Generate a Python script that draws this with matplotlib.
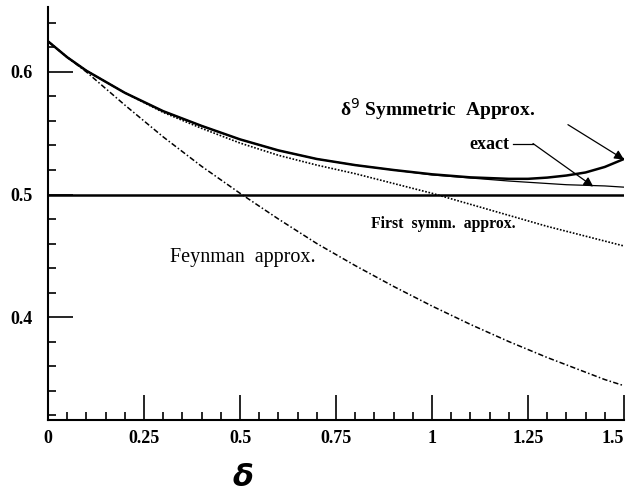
import matplotlib.pyplot as plt
from matplotlib.ticker import MultipleLocator

# values
delta = [0.0, 0.05, 0.1, 0.2, 0.3, 0.4, 0.5, 0.6, 0.7, 0.8, 0.9, 1.0,
         1.1, 1.2, 1.25, 1.3, 1.35, 1.4, 1.45, 1.5]
exact = [0.625, 0.612, 0.601, 0.583, 0.568, 0.556, 0.545, 0.536, 0.529,
         0.524, 0.520, 0.516, 0.5135, 0.511, 0.510, 0.509, 0.508, 0.5075,
         0.507, 0.506]
sym9 = [0.625, 0.612, 0.601, 0.583, 0.568, 0.556, 0.545, 0.536, 0.529,
        0.524, 0.520, 0.5165, 0.514, 0.5128, 0.5128, 0.5138, 0.5155, 0.518,
        0.5225, 0.529]
first_symm = [0.625, 0.612, 0.601, 0.583, 0.567, 0.554, 0.542, 0.532,
              0.524, 0.517, 0.509, 0.501, 0.492, 0.483, 0.4785, 0.474,
              0.470, 0.466, 0.462, 0.458]
feynman = [0.625, 0.612, 0.600, 0.573, 0.547, 0.523, 0.501, 0.480, 0.460,
           0.442, 0.425, 0.409, 0.394, 0.380, 0.3735, 0.367, 0.361, 0.355,
           0.349, 0.344]

serif = ['Liberation Serif', 'DejaVu Serif']

fig = plt.figure(figsize=(6.31, 4.97), dpi=100)
ax = fig.add_axes([0.0761, 0.1549, 0.9128, 0.831])

ax.axhline(0.5, color='black', lw=1.8)
ax.plot(delta, feynman, color='black', lw=1.1, ls=(0, (3.5, 1.5, 1, 1.5)))
ax.plot(delta, first_symm, color='black', lw=1.2, ls=(0, (1, 1)))
ax.plot(delta, exact, color='black', lw=0.9)
ax.plot(delta, sym9, color='black', lw=1.8)

ax.set_xlim(0, 1.5)
ax.set_ylim(0.316, 0.653)

for side in ['top', 'right']:
    ax.spines[side].set_visible(False)
for side in ['left', 'bottom']:
    ax.spines[side].set_linewidth(1.5)

ax.set_xticks([0, 0.25, 0.5, 0.75, 1.0, 1.25, 1.5])
ax.set_xticklabels(['0', '0.25', '0.5', '0.75', '1', '1.25', '1.5'])
ax.xaxis.set_minor_locator(MultipleLocator(0.05))
ax.set_yticks([0.4, 0.5, 0.6])
ax.set_yticklabels(['0.4', '0.5', '0.6'])
ax.yaxis.set_minor_locator(MultipleLocator(0.02))
ax.tick_params(which='major', direction='in', length=18, width=1.2,
               labelsize=13)
ax.tick_params(axis='y', which='major', pad=11)
ax.tick_params(axis='x', which='major', pad=7)
ax.tick_params(which='minor', direction='in', length=6, width=1.2)
for lab in ax.get_xticklabels() + ax.get_yticklabels():
    lab.set_family(serif)
    lab.set_fontweight('bold')
ax.get_xticklabels()[-1].set_horizontalalignment('right')

fig.text(0.385, 0.04, r'$\boldsymbol{\delta}$', fontsize=22, ha='center',
         va='center')

ax.text(0.76, 0.5695, 'δ$^9$ Symmetric  Approx.', fontsize=14,
        family=serif, fontweight='bold', va='center')
ax.text(1.098, 0.541, 'exact', fontsize=13, family=serif, fontweight='bold',
        va='center')
ax.text(0.84, 0.4763, 'First  symm.  approx.', fontsize=11.3, family=serif,
        fontweight='bold', va='center')
ax.text(0.318, 0.449, 'Feynman  approx.', fontsize=14.5, family=serif,
        va='center')

ax.plot([1.21, 1.263], [0.5416, 0.5416], color='black', lw=0.9)
ax.annotate('', xy=(1.42, 0.5065), xytext=(1.263, 0.5416),
            arrowprops=dict(arrowstyle='-|>', color='black', lw=0.9,
                            mutation_scale=14, shrinkA=0, shrinkB=0))
ax.annotate('', xy=(1.5, 0.5286), xytext=(1.354, 0.557),
            arrowprops=dict(arrowstyle='-|>', color='black', lw=0.9,
                            mutation_scale=14, shrinkA=0, shrinkB=0))

plt.savefig('out.png', dpi=100)
